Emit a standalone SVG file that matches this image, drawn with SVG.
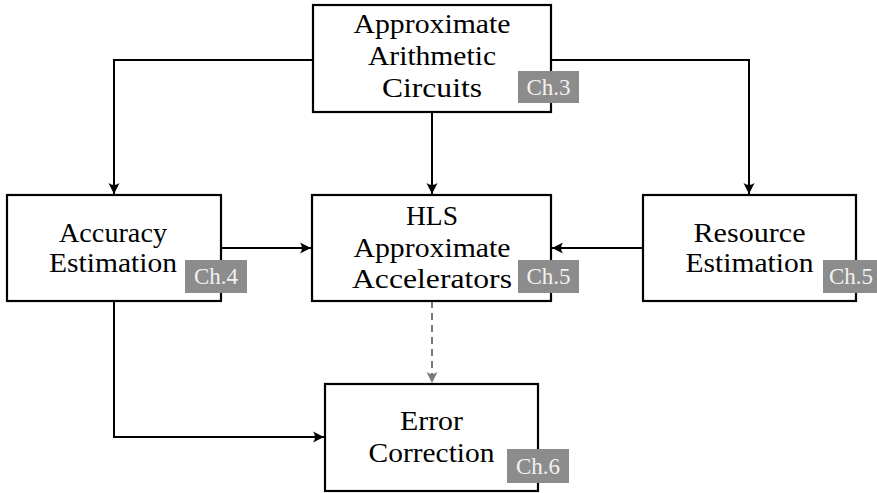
<svg xmlns="http://www.w3.org/2000/svg" width="877" height="493" viewBox="0 0 877 493">
<style>
.box{fill:#fff;stroke:#000;stroke-width:2.2}
.lbl{font-family:"Liberation Serif","DejaVu Serif",serif;font-size:27px;fill:#000;text-anchor:middle}
.badge{fill:#8c8c8c}
.btxt{font-family:"Liberation Serif","DejaVu Serif",serif;font-size:23px;fill:#f2f2f2;text-anchor:middle}
.con{fill:none;stroke:#000;stroke-width:2}
.dash{fill:none;stroke:#7a7a7a;stroke-width:2;stroke-dasharray:7,5}
</style>
<defs>
<marker id="ah" markerUnits="userSpaceOnUse" markerWidth="14" markerHeight="14" viewBox="-12 -7 14 14" refX="0" refY="0" orient="auto">
<path d="M0,0 L-11,-5.5 Q-7,0 -11,5.5 Z" fill="#000"/>
</marker>
<marker id="ahg" markerUnits="userSpaceOnUse" markerWidth="14" markerHeight="14" viewBox="-12 -7 14 14" refX="0" refY="0" orient="auto">
<path d="M0,0 L-11,-5.5 Q-7,0 -11,5.5 Z" fill="#7a7a7a"/>
</marker>
</defs>
<g id="connectors">
<path class="con" d="M313,60 H114 V194" marker-end="url(#ah)"/>
<path class="con" d="M551,60 H749 V194" marker-end="url(#ah)"/>
<path class="con" d="M432,112 V194" marker-end="url(#ah)"/>
<path class="con" d="M221,248 H311" marker-end="url(#ah)"/>
<path class="con" d="M643,248 H552" marker-end="url(#ah)"/>
<path class="con" d="M114,301 V437 H324" marker-end="url(#ah)"/>
<path class="dash" d="M432,301 V383" marker-end="url(#ahg)"/>
</g>
<g id="node-aac">
<rect class="box" x="313" y="5" width="238" height="107"/>
<text class="lbl" x="432" y="33" textLength="157" lengthAdjust="spacingAndGlyphs">Approximate</text>
<text class="lbl" x="432" y="65" textLength="128" lengthAdjust="spacingAndGlyphs">Arithmetic</text>
<text class="lbl" x="432" y="97" textLength="100" lengthAdjust="spacingAndGlyphs">Circuits</text>
<rect class="badge" x="518" y="71" width="61" height="32"/>
<text class="btxt" x="548.5" y="95">Ch.3</text>
</g>
<g id="node-acc">
<rect class="box" x="7" y="195" width="214" height="106"/>
<text class="lbl" x="113" y="242" textLength="108" lengthAdjust="spacingAndGlyphs">Accuracy</text>
<text class="lbl" x="113" y="272" textLength="128" lengthAdjust="spacingAndGlyphs">Estimation</text>
<rect class="badge" x="185" y="260" width="62" height="33"/>
<text class="btxt" x="216" y="284">Ch.4</text>
</g>
<g id="node-hls">
<rect class="box" x="312" y="195" width="239" height="106"/>
<text class="lbl" x="432" y="225" textLength="52" lengthAdjust="spacingAndGlyphs">HLS</text>
<text class="lbl" x="432" y="257" textLength="157" lengthAdjust="spacingAndGlyphs">Approximate</text>
<text class="lbl" x="432" y="288" textLength="160" lengthAdjust="spacingAndGlyphs">Accelerators</text>
<rect class="badge" x="518" y="260" width="61" height="33"/>
<text class="btxt" x="548.5" y="284">Ch.5</text>
</g>
<g id="node-res">
<rect class="box" x="643" y="195" width="213" height="106"/>
<text class="lbl" x="749.5" y="242" textLength="112" lengthAdjust="spacingAndGlyphs">Resource</text>
<text class="lbl" x="749.5" y="272" textLength="128" lengthAdjust="spacingAndGlyphs">Estimation</text>
<rect class="badge" x="823" y="260" width="60" height="33"/>
<text class="btxt" x="851" y="284">Ch.5</text>
</g>
<g id="node-err">
<rect class="box" x="325" y="384" width="213" height="107"/>
<text class="lbl" x="431.5" y="430" textLength="63" lengthAdjust="spacingAndGlyphs">Error</text>
<text class="lbl" x="431.5" y="462" textLength="126" lengthAdjust="spacingAndGlyphs">Correction</text>
<rect class="badge" x="507" y="449" width="62" height="34"/>
<text class="btxt" x="538" y="474">Ch.6</text>
</g>
</svg>
